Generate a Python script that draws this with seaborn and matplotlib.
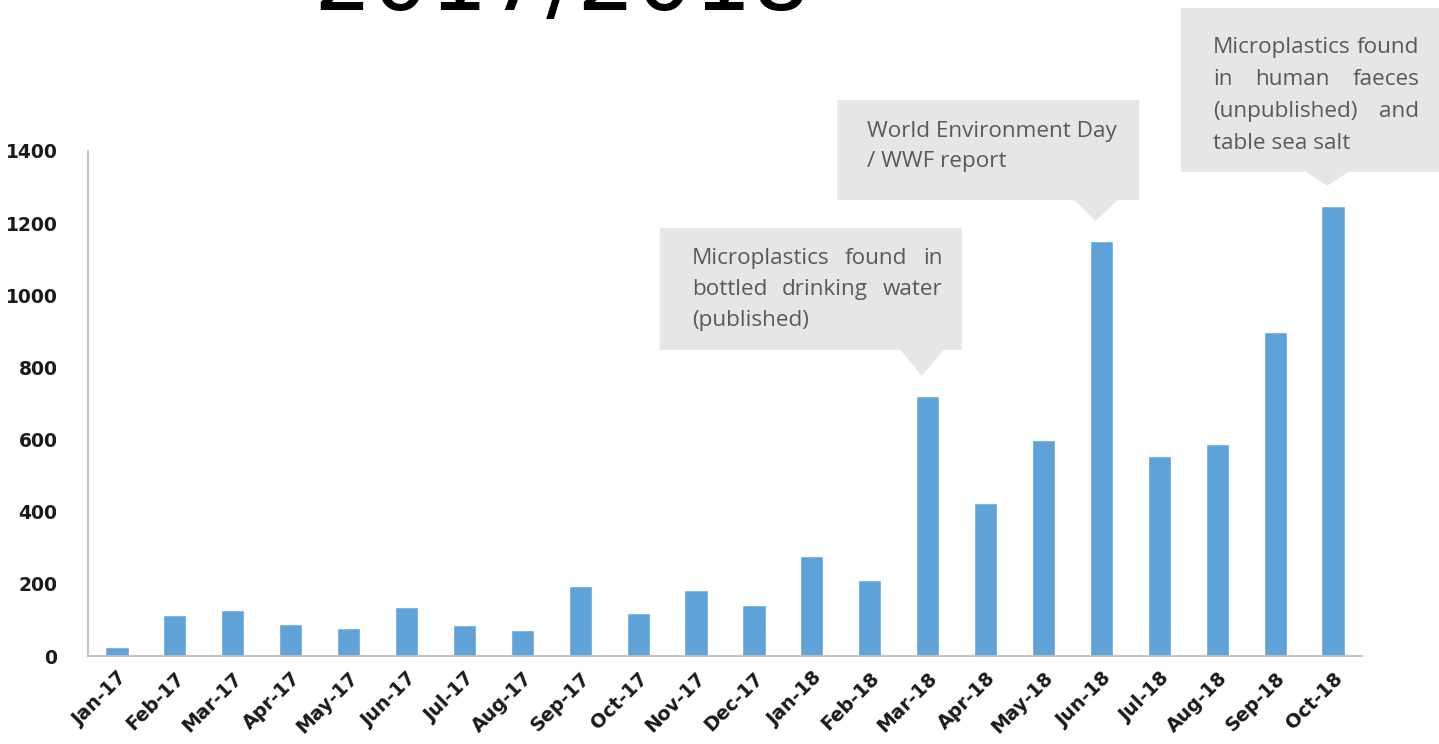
import matplotlib
matplotlib.use("Agg")
import matplotlib.pyplot as plt
from matplotlib.patches import Polygon
import seaborn as sns
import pandas as pd

# Monthly counts
months = ["Jan-17", "Feb-17", "Mar-17", "Apr-17", "May-17", "Jun-17", "Jul-17",
          "Aug-17", "Sep-17", "Oct-17", "Nov-17", "Dec-17", "Jan-18", "Feb-18",
          "Mar-18", "Apr-18", "May-18", "Jun-18", "Jul-18", "Aug-18", "Sep-18",
          "Oct-18"]
counts = [25, 114, 127, 89, 78, 136, 86, 72, 194, 119, 183, 141, 277, 211,
          721, 424, 599, 1150, 554, 588, 898, 1248]
y_ticks = [0, 200, 400, 600, 800, 1000, 1200, 1400]
title_text = "2017/2018"

# Callouts: (month, lines, justified)
callouts = [
    ("Mar-18", ["Microplastics found in", "bottled drinking water", "(published)"], True),
    ("Jun-18", ["World Environment Day", "/ WWF report"], False),
    ("Oct-18", ["Microplastics found", "in human faeces", "(unpublished) and",
                "table sea salt"], True),
]

W, H = 1439, 744
BAR = "#60a3d9"
BOX = "#e6e6e6"
TXT = "#595959"
AXC = "#bfbfbf"

sns.set_style("white")
fig = plt.figure(figsize=(W / 100, H / 100), dpi=100)
ax = fig.add_axes([88 / W, 1 - 656 / H, (1362 - 88) / W, (656 - 151) / H])

df = pd.DataFrame({"month": months, "count": counts})
sns.barplot(data=df, x="month", y="count", color=BAR, saturation=1,
            width=0.4, ax=ax)

ax.set_xlim(-0.5, len(months) - 0.5)
ax.set_ylim(0, 1400)
ax.set_yticks(y_ticks)
ax.set_xlabel("")
ax.set_ylabel("")
for s in ["top", "right"]:
    ax.spines[s].set_visible(False)
for s in ["left", "bottom"]:
    ax.spines[s].set_color(AXC)
    ax.spines[s].set_linewidth(1.3)

ax.tick_params(axis="y", length=8, width=1.2, color=AXC, pad=14,
               labelsize=13.5, labelcolor="#1a1a1a")
for lab in ax.get_yticklabels():
    lab.set_fontweight("bold")
    lab.set_family("DejaVu Sans")

# category boundary ticks on x
ax.set_xticks([i - 0.5 for i in range(len(months) + 1)], minor=True)
ax.tick_params(axis="x", which="minor", length=7, width=1.2, color=AXC,
               direction="out")
ax.tick_params(axis="x", which="major", length=0, pad=9)
ax.set_xticks(range(len(months)))
ax.set_xticklabels(months, rotation=45, ha="right", rotation_mode="anchor",
                   fontsize=13.8, fontweight="bold", color="#1a1a1a")


def px(x, y):
    """pixel (from top-left) -> figure fraction"""
    return (x / W, 1 - y / H)


fig.canvas.draw()
renderer = fig.canvas.get_renderer()
font_kw = dict(family="Open Sans", fontsize=16.2, color=TXT)


def place_lines(lines, left, right, base0, gap, justify):
    for k, line in enumerate(lines):
        by = base0 + k * gap
        words = line.split()
        last = k == len(lines) - 1
        if not justify or last or len(words) == 1:
            fig.text(*px(left, by), line, ha="left", va="baseline", **font_kw)
            continue
        objs = [fig.text(0, 0, w, ha="left", va="baseline", **font_kw) for w in words]
        widths = [o.get_window_extent(renderer).width for o in objs]
        space = max((right - left - sum(widths)) / (len(words) - 1), 4)
        x = left
        for o, w in zip(objs, widths):
            o.set_position(px(x, by))
            x += w + space


# geometry of each callout relative to the bar top (pixels):
# box = (left, right, top, bottom) offsets, text = (left, right, first baseline)
layouts = {
    "Mar-18": dict(box=(-262, 40, -168, -46), text=(-230, 21, -132), gap=31),
    "Jun-18": dict(box=(-258, 44, -141, -41), text=(-228, None, -104), gap=30),
    "Oct-18": dict(box=(-146, 120, -198, -34), text=(-114, 92, -153), gap=32),
}

for month, lines, justify in callouts:
    i = months.index(month)
    bx, by = ax.transData.transform((i, counts[i]))
    cx = bx - 6
    top_px = H - by
    g = layouts[month]
    l, r, t, b = g["box"]
    tip_y = top_px - 20
    box_bottom = top_px + b
    poly = [
        px(cx + l, top_px + t), px(cx + r, top_px + t), px(cx + r, box_bottom),
        px(cx + 22, box_bottom), px(cx, tip_y), px(cx - 21, box_bottom),
        px(cx + l, box_bottom),
    ]
    fig.patches.append(Polygon(poly, closed=True, transform=fig.transFigure,
                               facecolor=BOX, edgecolor="none", zorder=0))
    tl, tr, tb = g["text"]
    right = cx + tr if tr is not None else cx + r
    place_lines(lines, cx + tl, right, top_px + tb, g["gap"], justify)

# large heading, mostly above the canvas
fig.text(*px(313, 10), title_text, ha="left", va="baseline", fontsize=66,
         family="DejaVu Sans", color="black")

fig.savefig("out.png", dpi=100)
